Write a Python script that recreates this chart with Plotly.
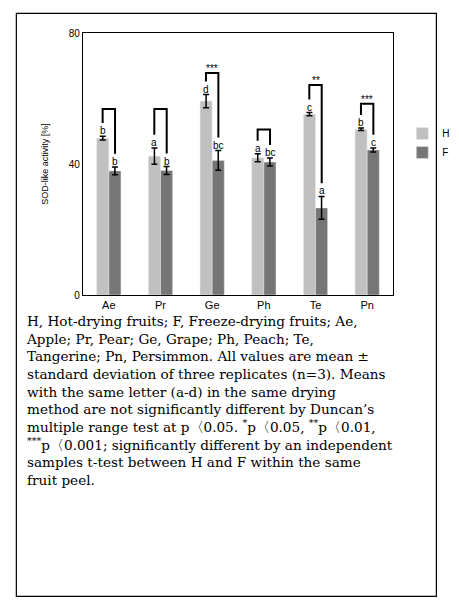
import plotly.graph_objects as go

cats = ["Ae", "Pr", "Ge", "Ph", "Te", "Pn"]
h_vals = [47.9, 42.4, 59.2, 41.9, 55.2, 50.6]
h_err = [0.6, 2.5, 2.0, 1.2, 0.5, 0.4]
f_vals = [37.9, 38.0, 41.1, 40.6, 26.6, 44.3]
f_err = [1.2, 1.2, 3.0, 1.2, 3.5, 0.6]
h_letters = ["b", "a", "d", "a", "c", "b"]
f_letters = ["b", "b", "bc", "bc", "a", "c"]
sig = ["", "", "***", "", "**", "***"]
bracket_top = [56.8, 56.8, 67.8, 50.5, 64.1, 58.4]

caption_lines = [
    "H, Hot-drying fruits; F, Freeze-drying fruits; Ae,",
    "Apple; Pr, Pear; Ge, Grape; Ph, Peach; Te,",
    "Tangerine; Pn, Persimmon. All values are mean ±",
    "standard deviation of three replicates (n=3). Means",
    "with the same letter (a-d) in the same drying",
    "method are not significantly different by Duncan’s",
    "multiple range test at p〈0.05. <sup>*</sup>p〈0.05, <sup>**</sup>p〈0.01,",
    "<sup>***</sup>p〈0.001; significantly different by an independent",
    "samples t-test between H and F within the same",
    "fruit peel.",
]

fig = go.Figure()
fig.add_bar(x=cats, y=h_vals, name="H", marker_color="#c0c0c0",
            error_y=dict(type="data", array=h_err, color="black", thickness=1.5, width=3))
fig.add_bar(x=cats, y=f_vals, name="F", marker_color="#767676",
            error_y=dict(type="data", array=f_err, color="black", thickness=1.5, width=3))

off = 0.12
for i, c in enumerate(cats):
    fig.add_annotation(x=i - off, y=h_vals[i] + h_err[i], text=h_letters[i], showarrow=False,
                       yanchor="bottom", font=dict(size=10, family="Arial", color="black"), yshift=-2)
    fig.add_annotation(x=i + off, y=f_vals[i] + f_err[i], text=f_letters[i], showarrow=False,
                       yanchor="bottom", font=dict(size=10, family="Arial", color="black"), yshift=-2)
    lo_h = h_vals[i] + h_err[i] + 4
    lo_f = f_vals[i] + f_err[i] + 4
    fig.add_shape(type="path", xref="x", yref="y",
                  path=f"M {i-off},{lo_h} L {i-off},{bracket_top[i]} L {i+off},{bracket_top[i]} L {i+off},{lo_f}",
                  line=dict(color="black", width=2))
    if sig[i]:
        fig.add_annotation(x=i, y=bracket_top[i], text=sig[i], showarrow=False, yanchor="bottom",
                           font=dict(size=10, family="Arial", color="black"), yshift=-3)

fig.add_annotation(xref="paper", yref="paper", x=-0.19, y=-0.06, xanchor="left", yanchor="top",
                   text="<br>".join(caption_lines), showarrow=False, align="left",
                   font=dict(family="DejaVu Serif", size=13.6, color="black"))
fig.add_shape(type="rect", xref="paper", yref="paper", x0=-0.215, x1=1.14, y0=-1.15, y1=1.075,
              line=dict(color="black", width=1.2))

fig.update_layout(
    width=459, height=602, margin=dict(l=75, r=53, t=25, b=315),
    plot_bgcolor="white", paper_bgcolor="white", barmode="group",
    bargap=0.53, bargroupgap=0, showlegend=True,
    legend=dict(x=1.03, y=0.58, xanchor="left", yanchor="middle", font=dict(size=10, family="Arial"),
                bgcolor="rgba(0,0,0,0)", tracegroupgap=8),
    font=dict(family="Arial", color="black"),
)
fig.update_xaxes(showline=True, mirror=True, linecolor="black", linewidth=1.2, ticks="",
                 tickfont=dict(size=11, family="Arial"))
fig.update_yaxes(range=[0, 80], tickvals=[0, 40, 80], showgrid=False, showline=True, mirror=True,
                 linecolor="black", linewidth=1.2, ticks="", tickfont=dict(size=10, family="Arial"),
                 title=dict(text="SOD-like activity [%]", font=dict(size=9, family="Arial"), standoff=18))
fig.write_html("out.html")
